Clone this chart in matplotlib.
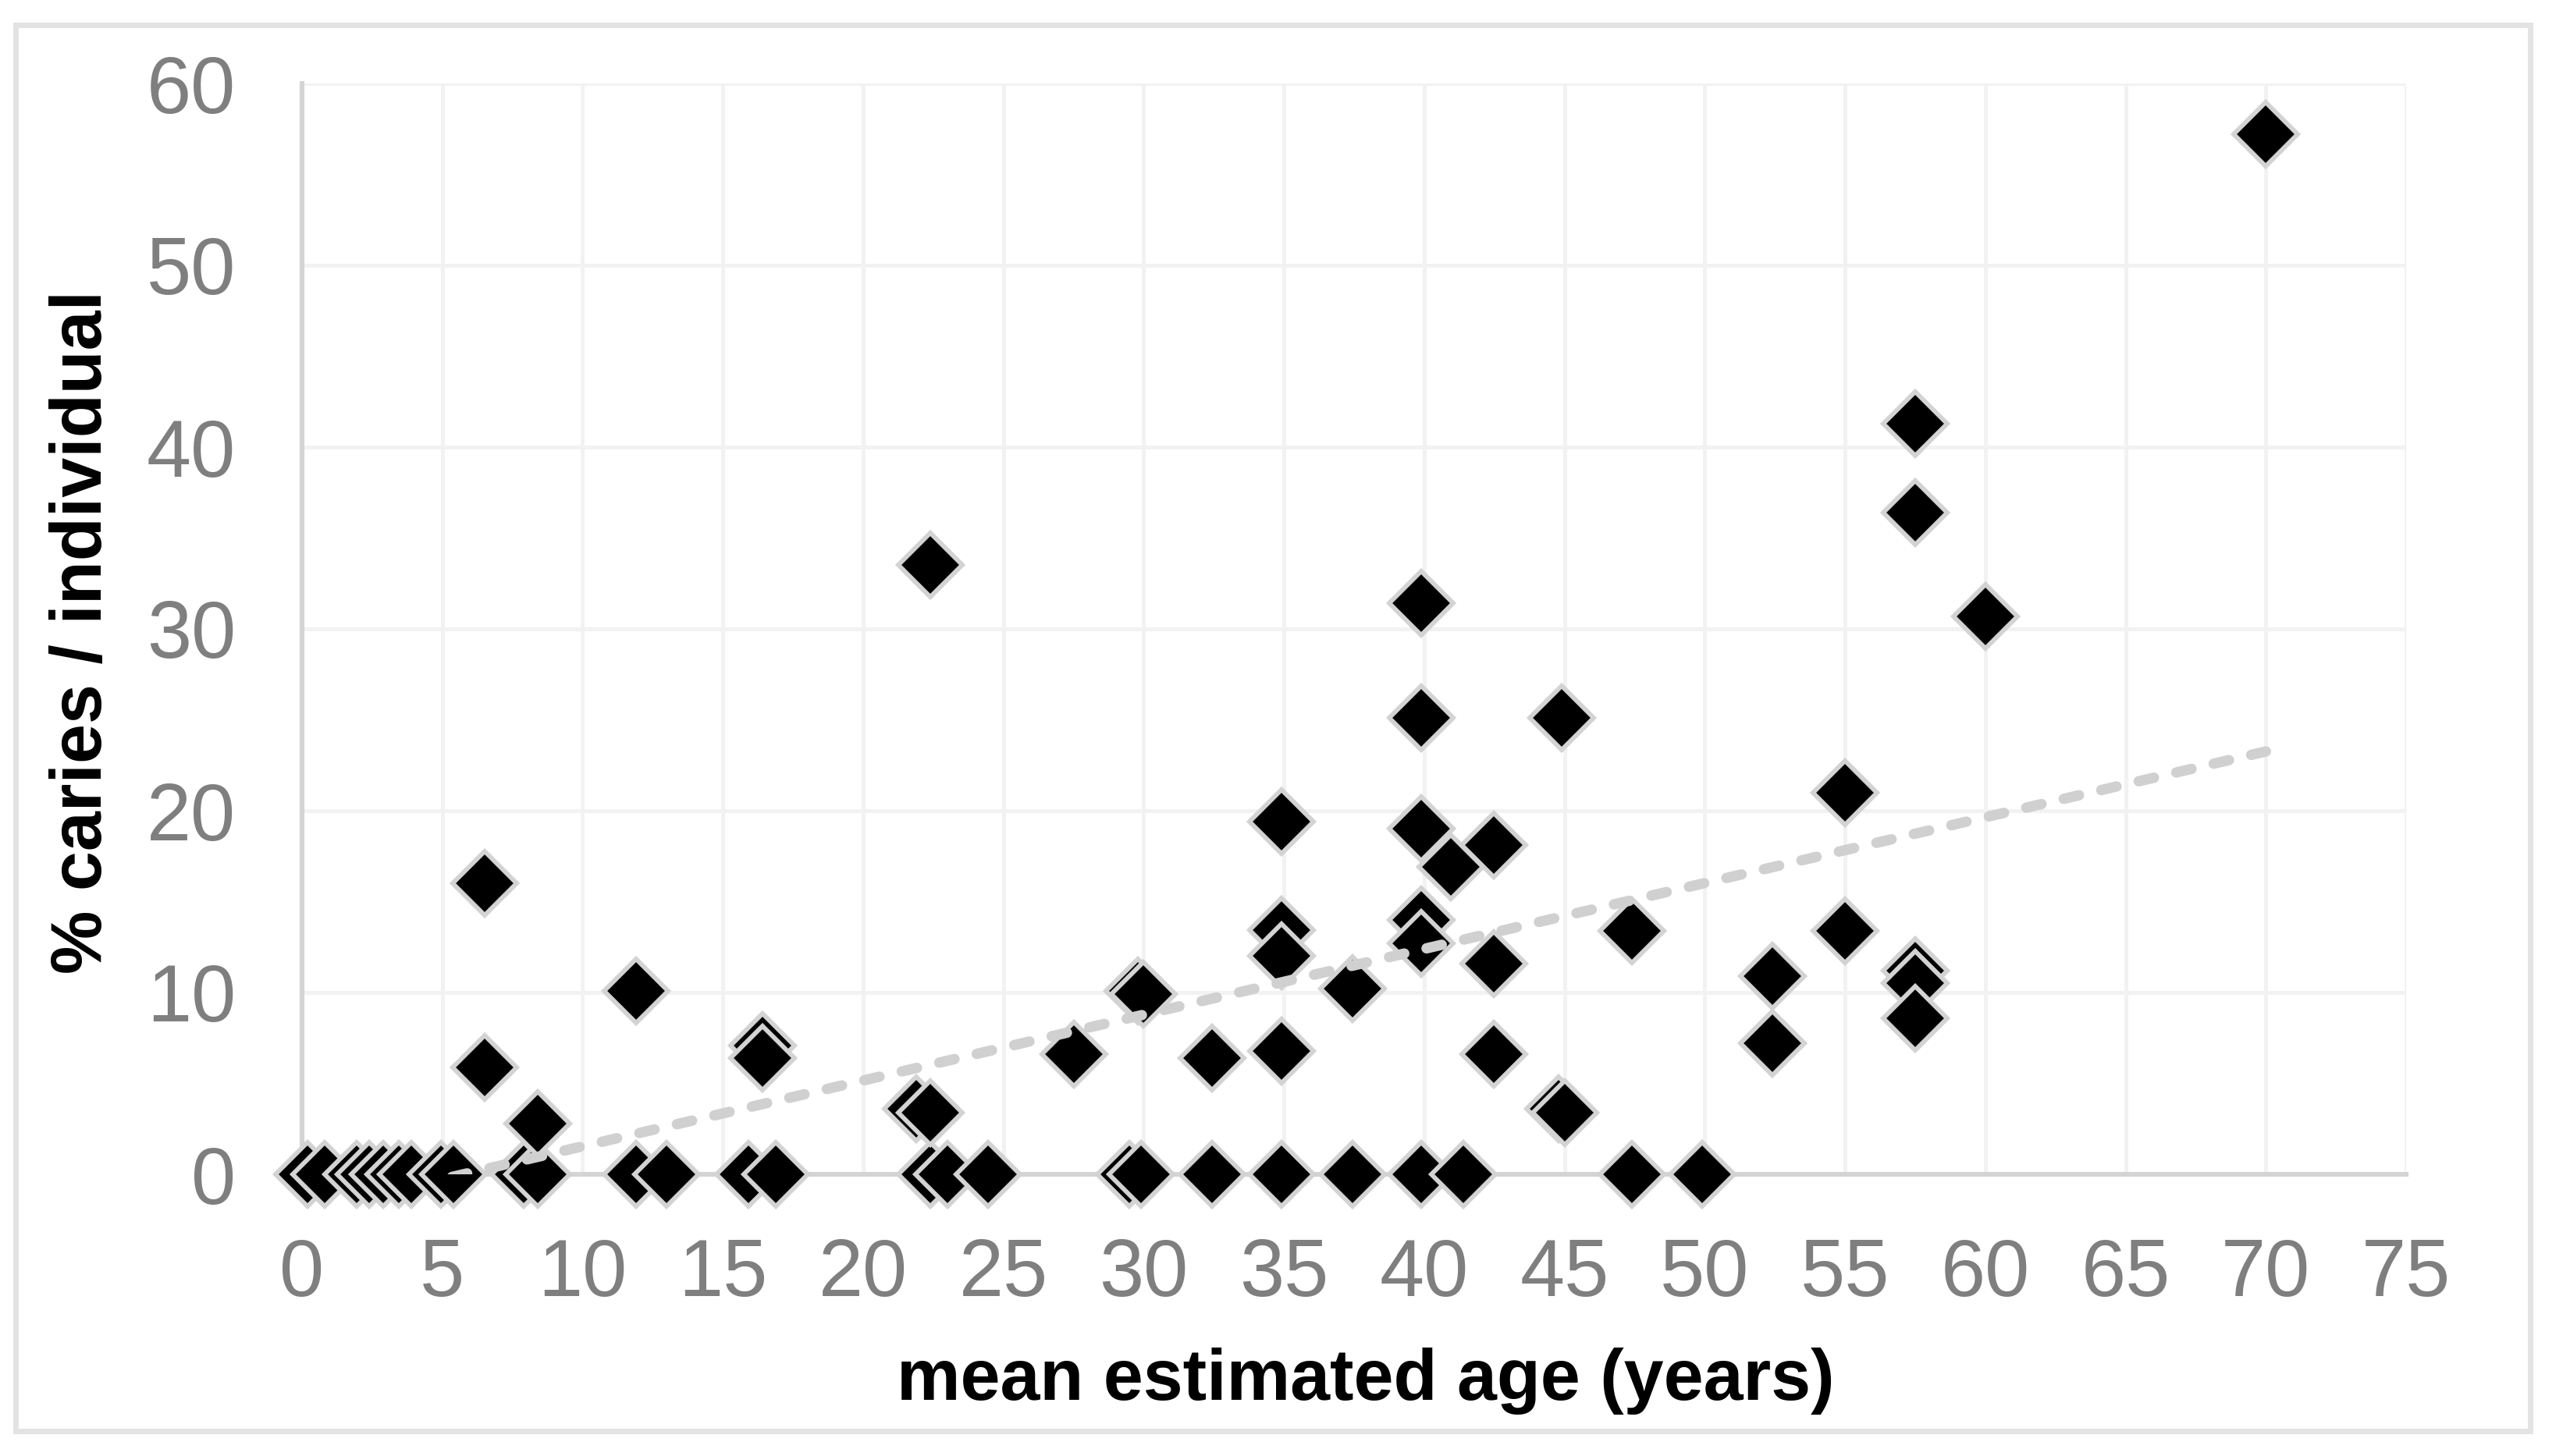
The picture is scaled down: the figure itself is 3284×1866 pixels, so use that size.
import matplotlib
matplotlib.use("Agg")
import matplotlib.pyplot as plt
from matplotlib.patches import Rectangle
import numpy as np

plt.rcParams['font.family'] = ['Liberation Sans', 'DejaVu Sans']

# ---- data ----
zero_ages = [0.2, 0.8, 1.95, 2.4, 2.9, 3.45, 3.9, 4.95, 5.4, 7.9, 8.4, 11.9, 13.0,
             15.9, 16.9, 22.4, 23.0, 24.45, 29.5, 29.9, 32.45, 34.9, 37.45, 39.9,
             41.4, 47.4, 49.9]
nz_ages = [6.5, 6.5, 8.4, 11.9, 16.4, 16.4, 21.9, 22.4, 22.4, 27.5, 29.8, 30.0,
           32.45, 34.9, 34.9, 34.9, 34.9, 37.45, 39.9, 39.9, 39.9, 39.9, 39.9,
           40.96, 42.47, 42.47, 42.47, 44.9, 44.8, 45.0, 47.4, 52.4, 52.4, 55.0,
           55.0, 57.5, 57.5, 57.5, 57.5, 57.5, 60.0, 70.0]
nz_caries = [16.0, 5.9, 2.8, 10.1, 7.1, 6.4, 3.6, 3.4, 33.5, 6.6, 10.1, 9.9,
             6.4, 19.4, 13.45, 12.0, 6.8, 10.2, 31.4, 25.1, 19.0, 14.0, 12.7,
             16.9, 18.1, 11.6, 6.6, 25.1, 3.6, 3.4, 13.4, 10.9, 7.2, 21.0,
             13.4, 41.3, 36.4, 11.2, 10.5, 8.6, 30.7, 57.2]
ages = zero_ages + nz_ages
caries = [0.0] * len(zero_ages) + nz_caries

# linear trend line
trend_slope = 0.362
trend_intercept = -2.08

x_ticks = list(range(0, 80, 5))
y_ticks = list(range(0, 70, 10))

# ---- figure ----
W, H, DPI = 3284, 1866, 200
fig = plt.figure(figsize=(W / DPI, H / DPI), dpi=DPI)
fig.patch.set_facecolor('white')

left, right, top, bottom = 387, 3083, 107, 1505
ax = fig.add_axes([left / W, 1 - bottom / H, (right - left) / W, (bottom - top) / H])
ax.set_xlim(0, 75)
ax.set_ylim(0, 60)
ax.set_xticks(x_ticks)
ax.set_yticks(y_ticks)

grid_c = '#F2F2F2'
axis_c = '#D4D4D4'
ax.grid(True, color=grid_c, linewidth=1.8, zorder=0)
ax.set_axisbelow(True)
for s in ['top', 'right']:
    ax.spines[s].set_visible(False)
for s in ['left', 'bottom']:
    ax.spines[s].set_color(axis_c)
    ax.spines[s].set_linewidth(2.2)

ax.tick_params(axis='both', length=0, labelsize=37, labelcolor='#7F7F7F')
ax.tick_params(axis='x', pad=29)
ax.tick_params(axis='y', pad=30.5)

# markers
ax.plot(ages, caries, linestyle='none', marker='D', markersize=20.8,
        markerfacecolor='black', markeredgecolor='#D3D3D3', markeredgewidth=2.1,
        clip_on=False, zorder=3)

# trend line
tx = np.array([0.0, max(ages)])
ty = trend_slope * tx + trend_intercept
ax.plot(tx, ty, color='#D0D0D0', linewidth=4.8, linestyle=(0, (1.5, 2.2)),
        dash_capstyle='round', zorder=4, clip_on=True)

# labels
fig.text(1750 / W, 1 - 1794 / H, 'mean estimated age (years)', ha='center',
         va='baseline', fontsize=33, fontweight='bold', color='black')
fig.text(106 / W, 1 - 810 / H, '% caries / individual', ha='center', va='center',
         rotation=90, fontsize=33, fontweight='bold', color='black')

# outer border
fig.patches.append(Rectangle((20 / W, 32 / H), (3242 - 20) / W, (1834 - 32) / H,
                             transform=fig.transFigure, fill=False,
                             edgecolor='#E3E3E3', linewidth=2.5))

fig.savefig('out.png', dpi=DPI, facecolor='white')
